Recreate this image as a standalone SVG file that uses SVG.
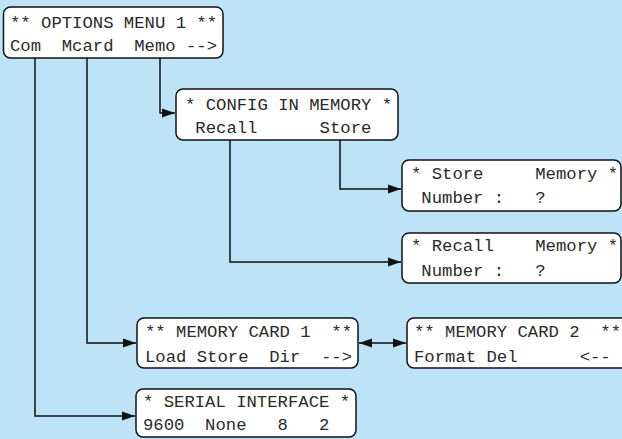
<svg xmlns="http://www.w3.org/2000/svg" width="622" height="439" viewBox="0 0 622 439" xml:space="preserve">
<style>
.bg{fill:#bce3f6}
.box{fill:#fff;stroke:#111;stroke-width:1.5}
.t{font-family:"Liberation Mono","Courier New",monospace;font-size:17.25px;fill:#2a2a2a;white-space:pre}
.c{fill:none;stroke:#111;stroke-width:1.5}
</style>
<defs>
<marker id="ah" markerUnits="userSpaceOnUse" markerWidth="14" markerHeight="10" refX="13" refY="5" orient="auto-start-reverse" viewBox="0 0 14 10">
<path d="M0,0.5 L13,5 L0,9.5 Z" fill="#111"/>
</marker>
</defs>
<rect class="bg" x="0" y="0" width="622" height="439"/>
<g id="connectors">
<path class="c" d="M160,58 V113 H175" marker-end="url(#ah)"/>
<path class="c" d="M35,58 V416 H135" marker-end="url(#ah)"/>
<path class="c" d="M87,58 V343 H136" marker-end="url(#ah)"/>
<path class="c" d="M230,140 V262 H401" marker-end="url(#ah)"/>
<path class="c" d="M340,140 V189 H401" marker-end="url(#ah)"/>
<path class="c" d="M359,343 H406" marker-start="url(#ah)" marker-end="url(#ah)"/>
</g>
<g id="options-menu-1">
<rect class="box" x="3.5" y="7" width="219.5" height="51" rx="7"/>
<text class="t" x="10" y="28">** OPTIONS MENU 1 **</text>
<text class="t" x="10" y="51">Com  Mcard  Memo --></text>
</g>
<g id="config-in-memory">
<rect class="box" x="176" y="89" width="222" height="51" rx="7"/>
<text class="t" x="185" y="110">* CONFIG IN MEMORY *</text>
<text class="t" x="185" y="133"> Recall      Store</text>
</g>
<g id="store-memory">
<rect class="box" x="402" y="160" width="219" height="51" rx="7"/>
<text class="t" x="411" y="179">* Store     Memory *</text>
<text class="t" x="411" y="203"> Number :   ?</text>
</g>
<g id="recall-memory">
<rect class="box" x="402" y="233" width="219" height="50" rx="7"/>
<text class="t" x="411" y="251">* Recall    Memory *</text>
<text class="t" x="411" y="276"> Number :   ?</text>
</g>
<g id="memory-card-1">
<rect class="box" x="137" y="318" width="221" height="50" rx="7"/>
<text class="t" x="145" y="337">** MEMORY CARD 1  **</text>
<text class="t" x="145" y="362">Load Store  Dir  --></text>
</g>
<g id="memory-card-2">
<rect class="box" x="407" y="318" width="230" height="50" rx="7"/>
<text class="t" x="414" y="337">** MEMORY CARD 2  **</text>
<text class="t" x="414" y="362">Format Del      &lt;--</text>
</g>
<g id="serial-interface">
<rect class="box" x="136" y="389" width="220" height="48" rx="7"/>
<text class="t" x="143" y="407">* SERIAL INTERFACE *</text>
<text class="t" x="143" y="430">9600  None   8   2</text>
</g>
</svg>
